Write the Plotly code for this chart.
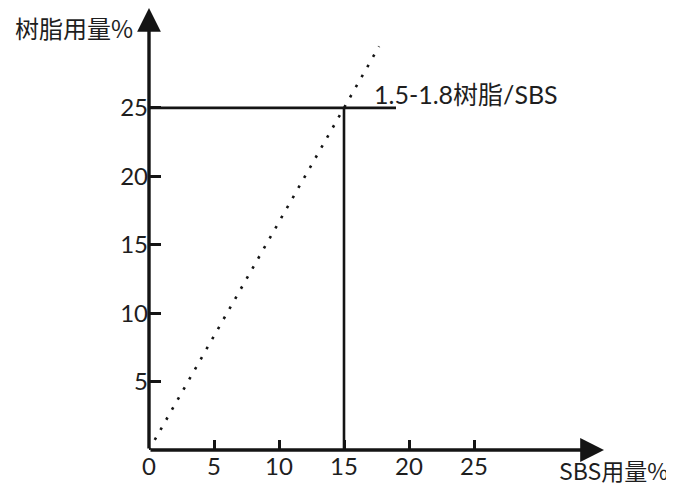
import plotly.graph_objects as go

# ---- data ----
sbs_dotted = [0, 17.7]          # SBS用量% along the ratio line
resin_dotted = [0, 29.5]        # 树脂用量% along the ratio line
ref_sbs = 15                    # marked SBS dosage
ref_resin = 25                  # marked resin dosage
h_line_end = 19                 # extent of the horizontal guide at 25
x_ticks = [0, 5, 10, 15, 20, 25]
y_ticks = [5, 10, 15, 20, 25]
x_title = "SBS用量%"
y_title = "树脂用量%"
line_label = "1.5-1.8树脂/SBS"

X_MAX = 35
Y_MAX = 32.3
INK = "#141414"
TXT = "#1e1e1e"
num_font = dict(family="Lato, 'Noto Sans', sans-serif", size=24, color=TXT)

fig = go.Figure()

# dotted ratio line
fig.add_trace(go.Scatter(
    x=sbs_dotted, y=resin_dotted, mode="lines",
    line=dict(color=INK, width=2.6, dash="2.6px,9px"),
    cliponaxis=False, showlegend=False, hoverinfo="skip"))

# horizontal guide at resin = 25
fig.add_trace(go.Scatter(
    x=[0, h_line_end], y=[ref_resin, ref_resin], mode="lines",
    line=dict(color=INK, width=2.6), cliponaxis=False,
    showlegend=False, hoverinfo="skip"))

# vertical guide at SBS = 15
fig.add_trace(go.Scatter(
    x=[ref_sbs, ref_sbs], y=[0, ref_resin], mode="lines",
    line=dict(color=INK, width=2.6), cliponaxis=False,
    showlegend=False, hoverinfo="skip"))

annotations = [
    # x axis with arrow
    dict(x=X_MAX, y=0, ax=0, ay=0, xref="x", yref="y", axref="x", ayref="y",
         text="", showarrow=True, arrowhead=2, arrowsize=1.4, arrowwidth=3.4,
         arrowcolor=INK, standoff=0),
    # y axis with arrow
    dict(x=0, y=Y_MAX, ax=0, ay=0, xref="x", yref="y", axref="x", ayref="y",
         text="", showarrow=True, arrowhead=2, arrowsize=1.4, arrowwidth=3.4,
         arrowcolor=INK, standoff=0),
    # axis titles
    dict(x=0, y=1, xref="paper", yref="paper", xanchor="right", yanchor="top",
         xshift=-14, yshift=0, text=y_title, showarrow=False,
         font=dict(family="'Noto Sans CJK SC', sans-serif", size=24, color=TXT)),
    dict(x=1, y=0, xref="paper", yref="paper", xanchor="right", yanchor="middle",
         xshift=66, yshift=-20, text=x_title, showarrow=False,
         font=dict(family="'Noto Sans CJK SC', sans-serif", size=23, color=TXT)),
    # line label
    dict(x=17.15, y=ref_resin, xref="x", yref="y", xanchor="left", yanchor="middle",
         yshift=14, text=line_label, showarrow=False,
         font=dict(family="Lato, 'Noto Sans CJK SC', sans-serif", size=25, color=TXT)),
]

fig.update_layout(
    width=666, height=481,
    margin=dict(l=141, r=70, t=0, b=38.5),
    paper_bgcolor="white", plot_bgcolor="white",
    annotations=annotations,
    xaxis=dict(range=[0, X_MAX], tickvals=x_ticks, ticks="inside", ticklen=10,
               tickwidth=2.5, tickcolor=INK, showgrid=False, zeroline=False,
               showline=False, tickfont=num_font, fixedrange=True),
    yaxis=dict(range=[0, Y_MAX], tickvals=y_ticks, ticks="inside", ticklen=12,
               tickwidth=2.5, tickcolor=INK, showgrid=False, zeroline=False,
               showline=False, tickfont=num_font, fixedrange=True),
)

fig.write_html("out.html")
